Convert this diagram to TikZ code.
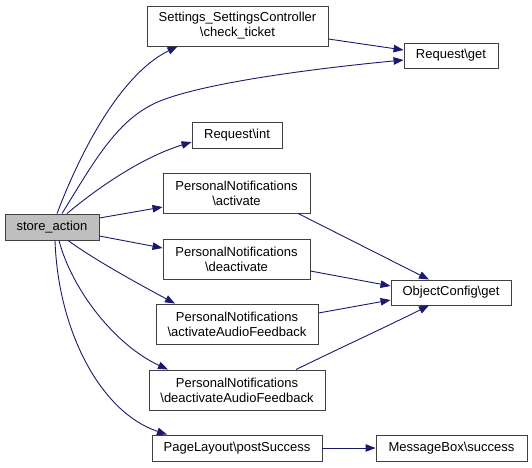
\documentclass[tikz,border=0pt]{standalone}
\usepackage{fontspec}
\setmainfont{Liberation Sans}
\usetikzlibrary{arrows.meta}
\definecolor{edgec}{RGB}{25,25,112}
\definecolor{boxgray}{RGB}{191,191,191}
\tikzset{
  fn/.style={draw=black!75, line width=0.9pt, rectangle, inner sep=0pt, align=center,
    font=\fontsize{13}{15}\selectfont, fill=white},
  calls/.style={draw=edgec, line width=0.9pt, -{Triangle[length=10pt,width=7.5pt]}},
}
\begin{document}
\begin{tikzpicture}[x=1pt,y=-1pt]
\useasboundingbox (0,0) rectangle (532,467);
\node[fn, fill=boxgray, minimum width=94pt, minimum height=26pt] (sa) at (52,227) {store\_action};
\node[fn, minimum width=181pt, minimum height=40pt] (ct) at (237.5,26) {Settings\_SettingsController\\\textbackslash check\_ticket};
\node[fn, minimum width=94pt, minimum height=25pt] (rg) at (451,55.5) {Request\textbackslash get};
\node[fn, minimum width=90pt, minimum height=26pt] (ri) at (237,135) {Request\textbackslash int};
\node[fn, minimum width=147pt, minimum height=40pt] (pa) at (236.5,193) {PersonalNotifications\\\textbackslash activate};
\node[fn, minimum width=147pt, minimum height=40pt] (pd) at (236.5,259) {PersonalNotifications\\\textbackslash deactivate};
\node[fn, minimum width=162pt, minimum height=40pt] (paa) at (237,324) {PersonalNotifications\\\textbackslash activateAudioFeedback};
\node[fn, minimum width=176pt, minimum height=40pt] (pda) at (237,390) {PersonalNotifications\\\textbackslash deactivateAudioFeedback};
\node[fn, minimum width=170pt, minimum height=26pt] (ps) at (237,448) {PageLayout\textbackslash postSuccess};
\node[fn, minimum width=151pt, minimum height=26pt] (mb) at (451.5,448) {MessageBox\textbackslash success};
\node[fn, minimum width=120pt, minimum height=25pt] (oc) at (451,292.5) {ObjectConfig\textbackslash get};

% from store_action
\draw[calls] ([xshift=5pt]sa.north) .. controls (85,140) and (125,72) .. ([xshift=-60pt]ct.south);
\draw[calls] ([xshift=10pt]sa.north) .. controls (95,160) and (118,118) .. (160,101)
   .. controls (210,81) and (330,67) .. ([yshift=-4.5pt]rg.west);
\draw[calls] ([xshift=15pt]sa.north) .. controls (95,190) and (140,158) .. ([yshift=-7pt]ri.west);
\draw[calls] ([yshift=9pt]sa.east) -- ([yshift=-14pt]pa.west);
\draw[calls] ([yshift=-9pt]sa.east) -- ([yshift=11pt]pd.west);
\draw[calls] ([xshift=16pt]sa.south) .. controls (95,260) and (135,282) .. ([xshift=-62pt]paa.north);
\draw[calls] ([xshift=7pt]sa.south) .. controls (72,290) and (115,345) .. ([xshift=-69pt]pda.north);
\draw[calls] ([xshift=3pt]sa.south) .. controls (58,330) and (100,412) .. ([xshift=-70pt]ps.north);
% others
\draw[calls] ([yshift=-13pt]ct.east) -- ([yshift=5.5pt]rg.west);
\draw[calls] ([xshift=61.5pt]pa.south) -- ([xshift=-22pt]oc.north);
\draw[calls] ([yshift=-12pt]pd.east) -- ([yshift=6.5pt]oc.west);
\draw[calls] ([yshift=11pt]paa.east) -- ([yshift=-7.5pt]oc.west);
\draw[calls] ([xshift=59pt]pda.north) .. controls (340,348) and (390,325) .. ([xshift=-22pt]oc.south);
\draw[calls] (ps.east) -- (mb.west);
\end{tikzpicture}
\end{document}
